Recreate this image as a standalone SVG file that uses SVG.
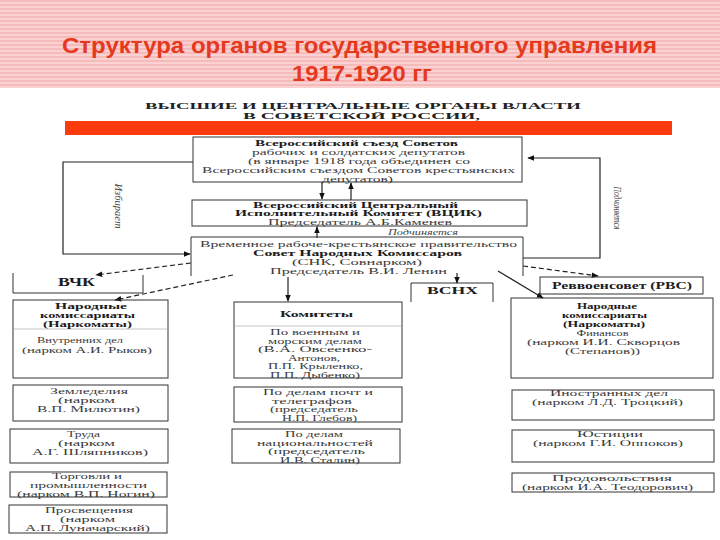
<svg xmlns="http://www.w3.org/2000/svg" width="720" height="540" viewBox="0 0 720 540">
<style>
.bx{fill:none;stroke:#333;stroke-width:1}
.sep{stroke:#c8c8c8;stroke-width:1}
.ln{fill:none;stroke:#222;stroke-width:1.2}
.ds{fill:none;stroke:#222;stroke-width:1.2;stroke-dasharray:5 3}
text{font-family:"Liberation Serif","Times New Roman",serif;font-size:8.5px;fill:#3a3a3a;text-anchor:middle}
.h{font-weight:bold;fill:#1c1c1c}
.i{font-style:italic;fill:#444}
.ttl{font-family:"Liberation Sans",Arial,sans-serif;font-size:22px;font-weight:bold;fill:#e5391e}
.sub{font-weight:bold;font-size:9px;fill:#222}
.lab{font-style:italic;font-size:10px;fill:#444}
</style>
<defs>
<pattern id="stripes" width="8" height="4" patternUnits="userSpaceOnUse">
<rect width="8" height="4" fill="#fbd2d2"/>
<rect width="8" height="2" fill="#f6baba"/>
</pattern>
<marker id="ar" viewBox="0 0 10 10" refX="9" refY="5" markerWidth="7" markerHeight="7" orient="auto" markerUnits="userSpaceOnUse">
<path d="M0,1 L10,5 L0,9 Z" fill="#111"/>
</marker>
</defs>
<rect width="720" height="540" fill="#fff"/>
<g id="header">
<rect x="0" y="0" width="720" height="88" fill="url(#stripes)"/>
<text class="ttl" x="359.5" y="53" textLength="595" lengthAdjust="spacingAndGlyphs">Структура органов государственного управления</text>
<text class="ttl" x="362" y="81" textLength="140" lengthAdjust="spacingAndGlyphs">1917-1920 гг</text>
</g>
<g id="subtitle">
<text class="sub" x="363" y="109" textLength="436" lengthAdjust="spacingAndGlyphs">ВЫСШИЕ И ЦЕНТРАЛЬНЫЕ ОРГАНЫ ВЛАСТИ</text>
<text class="sub" x="361.5" y="119" textLength="237" lengthAdjust="spacingAndGlyphs">В СОВЕТСКОЙ РОССИИ,</text>
<rect x="65" y="121" width="607" height="14" fill="#fb3a0e"/>
</g>
<g id="connectors">
<polyline class="ln" points="193,162 63,162 63,254 190,254" marker-end="url(#ar)"/>
<polyline class="ln" points="523,258 600,258 600,158 528,158" marker-end="url(#ar)"/>
<line class="ln" x1="322" y1="182" x2="322" y2="199" marker-end="url(#ar)"/>
<line class="ln" x1="351" y1="200" x2="351" y2="183" marker-end="url(#ar)"/>
<line class="ln" x1="317" y1="238" x2="317" y2="227" marker-end="url(#ar)"/>
<line class="ds" x1="191" y1="263" x2="96" y2="275" marker-end="url(#ar)"/>
<line class="ds" x1="233" y1="275" x2="115" y2="300" marker-end="url(#ar)"/>
<line class="ln" x1="288" y1="277" x2="288" y2="301" marker-end="url(#ar)"/>
<line class="ln" x1="457" y1="273" x2="457" y2="283" marker-end="url(#ar)"/>
<line class="ds" x1="523" y1="266" x2="598" y2="276" marker-end="url(#ar)"/>
<line class="ln" x1="498" y1="271" x2="543" y2="298" marker-end="url(#ar)"/>
<text class="lab" transform="translate(115,206) rotate(90)" textLength="45" lengthAdjust="spacingAndGlyphs">Избирает</text>
<text class="lab" transform="translate(614,208) rotate(90)" textLength="43" lengthAdjust="spacingAndGlyphs">Подчиняется</text>
</g>
<g id="congress">
<rect class="bx" x="193" y="137" width="329" height="45"/>
<text class="h" x="356.5" y="146" textLength="203" lengthAdjust="spacingAndGlyphs">Всероссийский съезд Советов</text>
<text x="358.5" y="155" textLength="213" lengthAdjust="spacingAndGlyphs">рабочих и солдатских депутатов</text>
<text x="359" y="164" textLength="222" lengthAdjust="spacingAndGlyphs">(в январе 1918 года объединен со</text>
<text x="358.5" y="173" textLength="313" lengthAdjust="spacingAndGlyphs">Всероссийским съездом Советов крестьянских</text>
<text x="357.5" y="182" textLength="71" lengthAdjust="spacingAndGlyphs">депутатов)</text>
</g>
<g id="vtsik">
<rect class="bx" x="192" y="200" width="335" height="26"/>
<text class="h" x="355.5" y="207.5" textLength="205" lengthAdjust="spacingAndGlyphs">Всероссийский Центральный</text>
<text class="h" x="358.5" y="216" textLength="247" lengthAdjust="spacingAndGlyphs">Исполнительный Комитет (ВЦИК)</text>
<text x="360" y="225" textLength="184" lengthAdjust="spacingAndGlyphs">Председатель А.Б.Каменев</text>
<text class="i" x="423" y="235" textLength="70" lengthAdjust="spacingAndGlyphs">Подчиняется</text>
</g>
<g id="snk">
<path class="bx" d="M191,276 V237 H523 V276"/>
<text x="358.5" y="247" textLength="317" lengthAdjust="spacingAndGlyphs">Временное рабоче-крестьянское правительство</text>
<text class="h" x="357.5" y="256" textLength="209" lengthAdjust="spacingAndGlyphs">Совет Народных Комиссаров</text>
<text x="357" y="265" textLength="130" lengthAdjust="spacingAndGlyphs">(СНК, Совнарком)</text>
<text x="358.5" y="274" textLength="177" lengthAdjust="spacingAndGlyphs">Председатель В.И. Ленин</text>
</g>
<g id="vchk">
<path class="bx" d="M13,273 V293 H143 V275"/>
<text class="h" x="76.5" y="286" style="font-size:12px" textLength="37" lengthAdjust="spacingAndGlyphs">ВЧК</text>
</g>
<g id="vsnkh">
<path class="bx" d="M411,302 V283 H493 V302"/>
<text class="h" x="452.5" y="294" style="font-size:10px" textLength="51" lengthAdjust="spacingAndGlyphs">ВСНХ</text>
</g>
<g id="rvs">
<rect class="bx" x="540" y="277" width="163" height="17"/>
<text class="h" x="622" y="289" style="font-size:10px" textLength="140" lengthAdjust="spacingAndGlyphs">Реввоенсовет (РВС)</text>
</g>
<g id="narkom-left">
<rect class="bx" x="13" y="300" width="155" height="78"/>
<line class="sep" x1="14" y1="329" x2="167" y2="329"/>
<text class="h" x="91" y="309" textLength="72" lengthAdjust="spacingAndGlyphs">Народные</text>
<text class="h" x="87.5" y="318" textLength="95" lengthAdjust="spacingAndGlyphs">комиссариаты</text>
<text class="h" x="87.5" y="327" textLength="89" lengthAdjust="spacingAndGlyphs">(Наркоматы)</text>
<text x="80" y="343" textLength="86" lengthAdjust="spacingAndGlyphs">Внутренних дел</text>
<text x="87" y="353" textLength="130" lengthAdjust="spacingAndGlyphs">(нарком А.И. Рыков)</text>
</g>
<g id="zemledelie">
<rect class="bx" x="13" y="385" width="155" height="36"/>
<text x="89" y="394" textLength="78" lengthAdjust="spacingAndGlyphs">Земледелия</text>
<text x="86.5" y="403" textLength="57" lengthAdjust="spacingAndGlyphs">(нарком</text>
<text x="88.5" y="412" textLength="103" lengthAdjust="spacingAndGlyphs">В.П. Милютин)</text>
</g>
<g id="trud">
<rect class="bx" x="10" y="429" width="158" height="34"/>
<text x="83.5" y="437" textLength="33" lengthAdjust="spacingAndGlyphs">Труда</text>
<text x="86.5" y="446" textLength="57" lengthAdjust="spacingAndGlyphs">(нарком</text>
<text x="90" y="455" textLength="116" lengthAdjust="spacingAndGlyphs">А.Г. Шляпников)</text>
</g>
<g id="torgovlya">
<rect class="bx" x="10" y="472" width="157" height="25"/>
<text x="87" y="479" textLength="70" lengthAdjust="spacingAndGlyphs">Торговли и</text>
<text x="88.5" y="488" textLength="117" lengthAdjust="spacingAndGlyphs">промышленности</text>
<text x="86" y="497" textLength="138" lengthAdjust="spacingAndGlyphs">(нарком В.П. Ногин)</text>
</g>
<g id="prosveschenie">
<rect class="bx" x="9" y="505" width="158" height="28"/>
<text x="89" y="513" textLength="88" lengthAdjust="spacingAndGlyphs">Просвещения</text>
<text x="87.5" y="522" textLength="55" lengthAdjust="spacingAndGlyphs">(нарком</text>
<text x="87.5" y="531" textLength="125" lengthAdjust="spacingAndGlyphs">А.П. Луначарский)</text>
</g>
<g id="komitety">
<rect class="bx" x="234" y="302" width="168" height="76"/>
<line class="sep" x1="235" y1="326" x2="401" y2="326"/>
<text class="h" x="316.5" y="317" textLength="73" lengthAdjust="spacingAndGlyphs">Комитеты</text>
<text x="315" y="335" textLength="90" lengthAdjust="spacingAndGlyphs">По военным и</text>
<text x="315" y="343.5" textLength="94" lengthAdjust="spacingAndGlyphs">морским делам</text>
<text x="315" y="352" textLength="114" lengthAdjust="spacingAndGlyphs">(В.А. Овсеенко-</text>
<text x="314" y="360.5" textLength="52" lengthAdjust="spacingAndGlyphs">Антонов,</text>
<text x="315.5" y="369" textLength="95" lengthAdjust="spacingAndGlyphs">П.П. Крыленко,</text>
<text x="315" y="377.5" textLength="90" lengthAdjust="spacingAndGlyphs">П.П. Дыбенко)</text>
</g>
<g id="pochta">
<rect class="bx" x="234" y="387" width="168" height="35"/>
<text x="318" y="395" textLength="110" lengthAdjust="spacingAndGlyphs">По делам почт и</text>
<text x="312" y="403.5" textLength="80" lengthAdjust="spacingAndGlyphs">телеграфов</text>
<text x="314" y="412" textLength="88" lengthAdjust="spacingAndGlyphs">(председатель</text>
<text x="319.5" y="420.5" textLength="75" lengthAdjust="spacingAndGlyphs">Н.П. Глебов)</text>
</g>
<g id="nats">
<rect class="bx" x="232" y="429" width="168" height="34"/>
<text x="314" y="437" textLength="58" lengthAdjust="spacingAndGlyphs">По делам</text>
<text x="315" y="445.5" textLength="116" lengthAdjust="spacingAndGlyphs">национальностей</text>
<text x="316.5" y="454" textLength="97" lengthAdjust="spacingAndGlyphs">(председатель</text>
<text x="320" y="462.5" textLength="80" lengthAdjust="spacingAndGlyphs">И.В. Сталин)</text>
</g>
<g id="narkom-right">
<rect class="bx" x="511" y="298" width="202" height="80"/>
<text class="h" x="607" y="309" textLength="60" lengthAdjust="spacingAndGlyphs">Народные</text>
<text class="h" x="604.5" y="318" textLength="85" lengthAdjust="spacingAndGlyphs">комиссариаты</text>
<text class="h" x="604" y="327" textLength="82" lengthAdjust="spacingAndGlyphs">(Наркоматы)</text>
<text x="602.5" y="336" textLength="52" lengthAdjust="spacingAndGlyphs">Финансов</text>
<text x="603.5" y="345" textLength="153" lengthAdjust="spacingAndGlyphs">(нарком И.И. Скворцов</text>
<text x="602.5" y="354" textLength="75" lengthAdjust="spacingAndGlyphs">(Степанов))</text>
</g>
<g id="inostr">
<rect class="bx" x="512" y="390" width="202" height="30"/>
<text x="609" y="396" textLength="118" lengthAdjust="spacingAndGlyphs">Иностранных дел</text>
<text x="607.5" y="405" textLength="151" lengthAdjust="spacingAndGlyphs">(нарком Л.Д. Троцкий)</text>
</g>
<g id="yustitsiya">
<rect class="bx" x="512" y="430" width="202" height="32"/>
<text x="610" y="437" textLength="66" lengthAdjust="spacingAndGlyphs">Юстиции</text>
<text x="608" y="446" textLength="150" lengthAdjust="spacingAndGlyphs">(нарком Г.И. Оппоков)</text>
</g>
<g id="prodovolstvie">
<rect class="bx" x="512" y="473" width="202" height="19"/>
<text x="612" y="481" textLength="120" lengthAdjust="spacingAndGlyphs">Продовольствия</text>
<text x="607.5" y="490" textLength="171" lengthAdjust="spacingAndGlyphs">(нарком И.А. Теодорович)</text>
</g>
</svg>
